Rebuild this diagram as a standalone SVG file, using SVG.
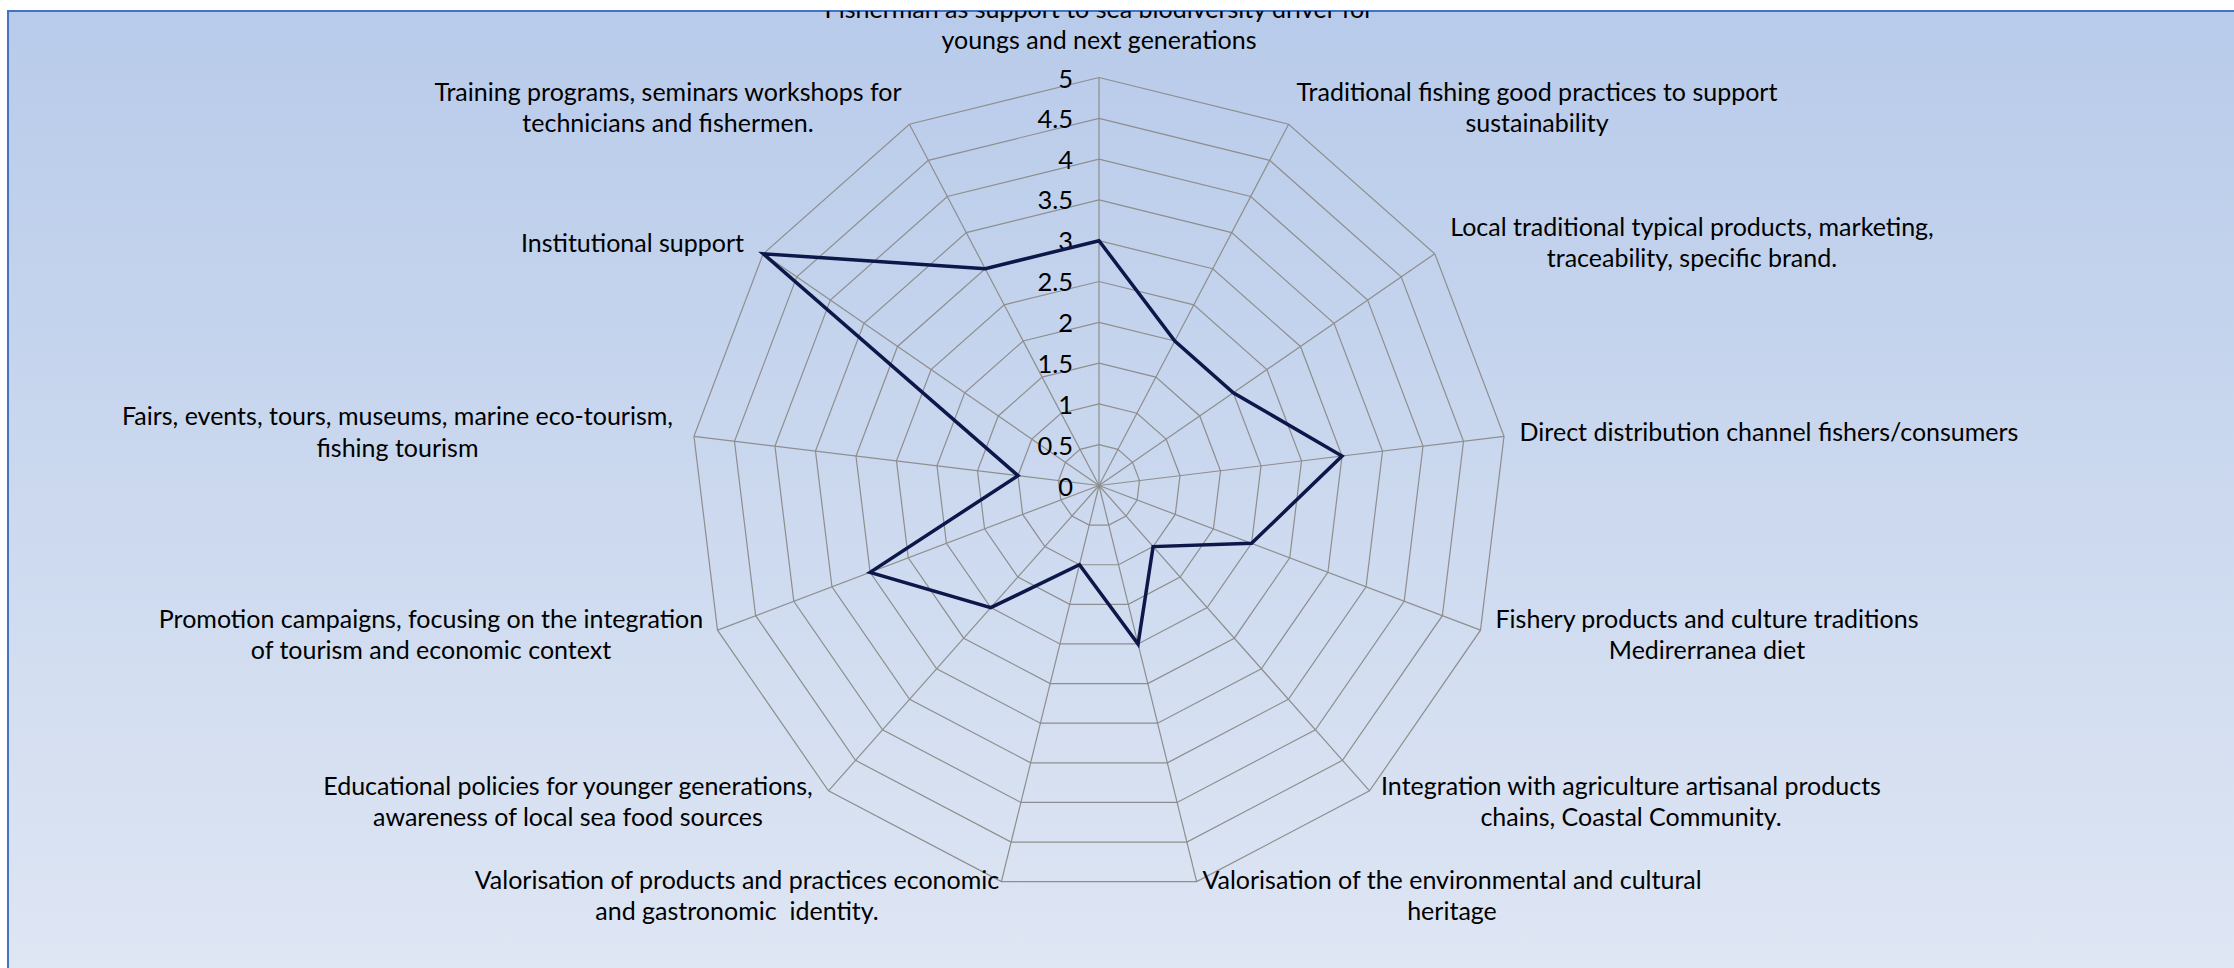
<svg xmlns="http://www.w3.org/2000/svg" xmlns:xlink="http://www.w3.org/1999/xlink" width="2234" height="968" viewBox="0 0 2234 968">
  <defs>
    <linearGradient id="bg" x1="0" y1="0" x2="0" y2="1">
      <stop offset="0" stop-color="#b8cbea"/>
      <stop offset="1" stop-color="#e0e7f4"/>
    </linearGradient>
    <clipPath id="area">
      <rect x="8" y="11" width="2300" height="1000"/>
    </clipPath>
    <polygon id="ring" points="0,-408 189.61,-361.27 335.78,-231.77 405.03,-49.18 381.49,144.68 270.55,305.39 97.64,396.14 -97.64,396.14 -270.55,305.39 -381.49,144.68 -405.03,-49.18 -335.78,-231.77 -189.61,-361.27" fill="none" stroke="#8e8e8e" stroke-width="1.2" vector-effect="non-scaling-stroke"/>
  </defs>
  <style>
    .lbl { font-family: Lato, "Liberation Sans", sans-serif; font-size: 25px; fill: #000; text-anchor: middle; }
    .tick { font-family: Lato, "Liberation Sans", sans-serif; font-size: 25.5px; fill: #000; text-anchor: end; }
    .spoke { stroke: #8e8e8e; stroke-width: 1.2; }
  </style>

  <rect x="8" y="11" width="2300" height="1000" fill="url(#bg)" stroke="#4472c4" stroke-width="2"/>

  <g id="grid" transform="translate(1099,485.5)">
    <use xlink:href="#ring" transform="scale(0.1)"/>
    <use xlink:href="#ring" transform="scale(0.2)"/>
    <use xlink:href="#ring" transform="scale(0.3)"/>
    <use xlink:href="#ring" transform="scale(0.4)"/>
    <use xlink:href="#ring" transform="scale(0.5)"/>
    <use xlink:href="#ring" transform="scale(0.6)"/>
    <use xlink:href="#ring" transform="scale(0.7)"/>
    <use xlink:href="#ring" transform="scale(0.8)"/>
    <use xlink:href="#ring" transform="scale(0.9)"/>
    <use xlink:href="#ring"/>
    <g class="spoke">
      <line x1="0" y1="0" x2="0" y2="-408"/>
      <line x1="0" y1="0" x2="189.61" y2="-361.27"/>
      <line x1="0" y1="0" x2="335.78" y2="-231.77"/>
      <line x1="0" y1="0" x2="405.03" y2="-49.18"/>
      <line x1="0" y1="0" x2="381.49" y2="144.68"/>
      <line x1="0" y1="0" x2="270.55" y2="305.39"/>
      <line x1="0" y1="0" x2="97.64" y2="396.14"/>
      <line x1="0" y1="0" x2="-97.64" y2="396.14"/>
      <line x1="0" y1="0" x2="-270.55" y2="305.39"/>
      <line x1="0" y1="0" x2="-381.49" y2="144.68"/>
      <line x1="0" y1="0" x2="-405.03" y2="-49.18"/>
      <line x1="0" y1="0" x2="-335.78" y2="-231.77"/>
      <line x1="0" y1="0" x2="-189.61" y2="-361.27"/>
    </g>
  </g>

  <g id="ticks">
    <text class="tick" x="1073" y="495.5">0</text>
    <text class="tick" x="1073" y="454.5">0.5</text>
    <text class="tick" x="1073" y="413.5">1</text>
    <text class="tick" x="1073" y="372.5">1.5</text>
    <text class="tick" x="1073" y="332">2</text>
    <text class="tick" x="1073" y="291">2.5</text>
    <text class="tick" x="1073" y="250">3</text>
    <text class="tick" x="1073" y="209">3.5</text>
    <text class="tick" x="1073" y="168.5">4</text>
    <text class="tick" x="1073" y="128">4.5</text>
    <text class="tick" x="1073" y="87.5">5</text>
  </g>

  <g id="connectors">
    <polygon id="series" transform="translate(1099,485.5)" points="0,-244.8 75.84,-144.51 134.31,-92.71 243.02,-29.51 152.6,57.87 54.11,61.08 39.06,158.46 -19.53,79.23 -108.22,122.16 -228.89,86.81 -81.01,-9.84 -335.78,-231.77 -113.76,-216.76" fill="none" stroke="#0e1749" stroke-width="3.5" stroke-linejoin="miter"/>
  </g>

  <g clip-path="url(#area)">
    <g id="n1"><text class="lbl" x="1099" y="18">Fisherman as support to sea biodiversity driver for</text><text class="lbl" x="1099" y="49">youngs and next generations</text></g>
  </g>
  <g id="n2"><text class="lbl" x="1537" y="100.5">Traditional fishing good practices to support</text><text class="lbl" x="1537" y="132">sustainability</text></g>
  <g id="n3"><text class="lbl" x="1692" y="236">Local traditional typical products, marketing,</text><text class="lbl" x="1692" y="267">traceability, specific brand.</text></g>
  <g id="n4"><text class="lbl" x="1769" y="441">Direct distribution channel fishers/consumers</text></g>
  <g id="n5"><text class="lbl" x="1707" y="628">Fishery products and culture traditions</text><text class="lbl" x="1707" y="659">Medirerranea diet</text></g>
  <g id="n6"><text class="lbl" x="1631" y="794.5">Integration with agriculture artisanal products</text><text class="lbl" x="1631" y="826">chains, Coastal Community.</text></g>
  <g id="n7"><text class="lbl" x="1452" y="888.5">Valorisation of the environmental and cultural</text><text class="lbl" x="1452" y="920">heritage</text></g>
  <g id="n8"><text class="lbl" x="737" y="888.5">Valorisation of products and practices economic</text><text class="lbl" x="737" y="920" xml:space="preserve">and gastronomic  identity.</text></g>
  <g id="n9"><text class="lbl" x="568" y="794.5">Educational policies for younger generations,</text><text class="lbl" x="568" y="826">awareness of local sea food sources</text></g>
  <g id="n10"><text class="lbl" x="431" y="628">Promotion campaigns, focusing on the integration</text><text class="lbl" x="431" y="659">of tourism and economic context</text></g>
  <g id="n11"><text class="lbl" x="397.5" y="425">Fairs, events, tours, museums, marine eco-tourism,</text><text class="lbl" x="397.5" y="456.5">fishing tourism</text></g>
  <g id="n12"><text class="lbl" x="632.5" y="251.5">Institutional support</text></g>
  <g id="n13"><text class="lbl" x="668" y="100.5">Training programs, seminars workshops for</text><text class="lbl" x="668" y="132">technicians and fishermen.</text></g>
</svg>
